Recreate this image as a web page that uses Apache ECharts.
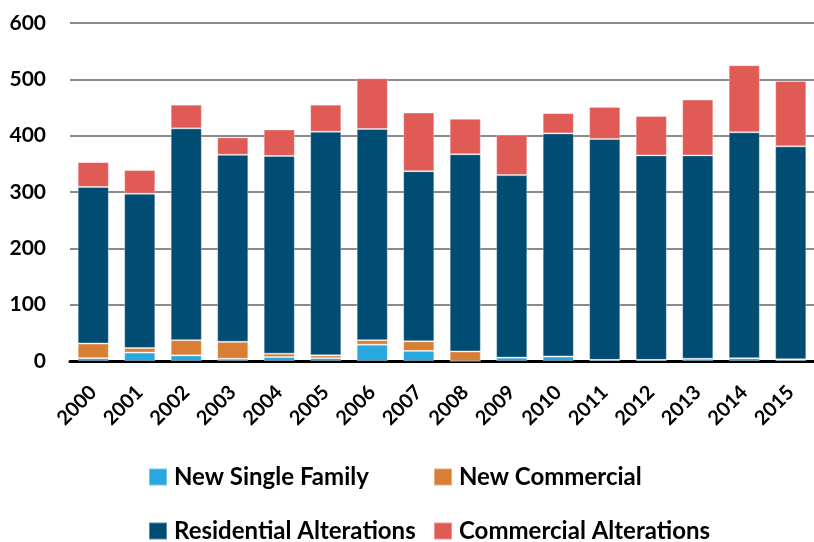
<!DOCTYPE html>
<html><head><meta charset="utf-8">
<script src="https://cdn.jsdelivr.net/npm/echarts@6/dist/echarts.min.js"></script>
<style>html,body{margin:0;padding:0;background:#fff}#c{width:814px;height:542px}</style>
</head><body><div id="c"></div>
<script>
const years = ['2000','2001','2002','2003','2004','2005','2006','2007','2008','2009','2010','2011','2012','2013','2014','2015'];
const newSingleFamily = [5,15,10,4,7,5,29,18,0,6,8,2,2,4,5,2];
const newCommercial = [26,8,27,30,6,5,8,17,17,0,0,0,0,0,0,1];
const residentialAlterations = [278,274,376,332,351,397,375,302,350,324,396,392,363,361,401,378];
const commercialAlterations = [44,42,42,31,47,48,90,104,63,72,36,57,70,99,119,116];
const yTicks = [0,100,200,300,400,500,600];

const FONT = 'Lato';
const chart = echarts.init(document.getElementById('c'));
const mk = (name, data, color) => ({
  name, type: 'bar', stack: 'total', data, barWidth: '67%',
  itemStyle: {color, borderColor: 'rgba(255,255,255,0.35)', borderWidth: 1},
  emphasis: {disabled: true}
});
const lg = (name, left, top) => ({
  left, top, padding: 0, itemWidth: 18, itemHeight: 17, icon: 'rect', data: [name],
  selectedMode: false,
  textStyle: {fontFamily: FONT, fontWeight: 'bold', fontSize: 24, lineHeight: 26, color: '#000', padding: [0,0,0,2]}
});
chart.setOption({
  animation: false,
  grid: {left: 70, right: -12, top: 23, bottom: 181},
  legend: [
    lg('New Single Family', 148, 464),
    lg('New Commercial', 433, 464),
    lg('Residential Alterations', 148, 518),
    lg('Commercial Alterations', 433, 518)
  ],
  xAxis: {
    type: 'category', data: years,
    axisLine: {lineStyle: {color: '#000', width: 3}},
    axisTick: {show: false},
    axisLabel: {rotate: 45, margin: 28, interval: 0, fontFamily: FONT, fontWeight: 'bold', fontSize: 20, color: '#000'}
  },
  yAxis: {
    type: 'value', min: 0, max: 600, interval: 100,
    axisLine: {show: false}, axisTick: {show: false},
    splitLine: {lineStyle: {color: '#8a8a8a', width: 2}},
    axisLabel: {margin: 24, fontFamily: FONT, fontWeight: 'bold', fontSize: 21, color: '#000',
      formatter: v => yTicks.includes(v) ? String(v) : ''}
  },
  series: [
    mk('New Single Family', newSingleFamily, '#29a8e0'),
    mk('New Commercial', newCommercial, '#d97f35'),
    mk('Residential Alterations', residentialAlterations, '#004c73'),
    mk('Commercial Alterations', commercialAlterations, '#e05a56')
  ]
});
</script></body></html>
